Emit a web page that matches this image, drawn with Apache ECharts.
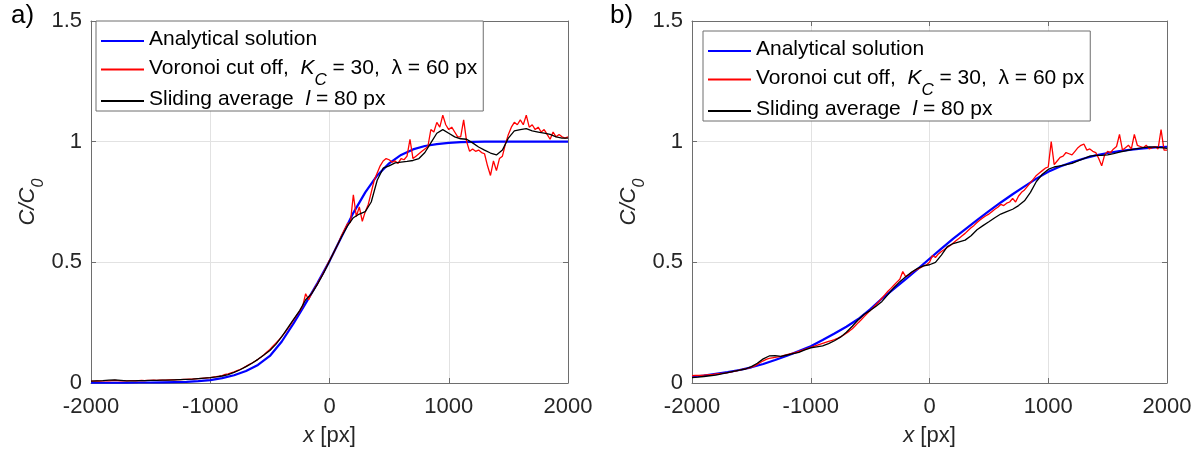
<!DOCTYPE html>
<html><head><meta charset="utf-8">
<script src="https://cdn.jsdelivr.net/npm/echarts@6/dist/echarts.min.js"></script>
<style>html,body{margin:0;padding:0;background:#fff}#c{width:1201px;height:456px}</style>
</head><body><div id="c"></div><script>
// ---------- data ----------
const xTicks = [-2000, -1000, 0, 1000, 2000];
const yTicks = [0, 0.5, 1, 1.5];
const seriesNames = ['Analytical solution', 'Voronoi cut off', 'Sliding average'];
const panelLabels = ['a)', 'b)'];

// sample spacing of each curve (x in px, from -2000 to 2000)
const stepAnalytical = 100;
const stepVoronoi = 25;
const stepSliding = 50;

// Panel a)
const aAnalytical = [
  0.001, 0.001, 0.001, 0.001, 0.002, 0.002, 0.003, 0.004,
  0.005, 0.008, 0.012, 0.020, 0.032, 0.050, 0.075, 0.112,
  0.172, 0.248, 0.330, 0.415, 0.505, 0.605, 0.705, 0.790,
  0.860, 0.910, 0.945, 0.968, 0.982, 0.990, 0.995, 0.998,
  0.999, 1.000, 1.000, 1.000, 1.000, 1.000, 1.000, 1.000,
  1.000
];
const aVoronoi = [
  0.008, 0.008, 0.009, 0.008, 0.009, 0.010, 0.009, 0.010,
  0.011, 0.010, 0.009, 0.010, 0.009, 0.010, 0.010, 0.009,
  0.010, 0.011, 0.010, 0.011, 0.011, 0.012, 0.011, 0.012,
  0.012, 0.012, 0.013, 0.013, 0.013, 0.014, 0.014, 0.015,
  0.015, 0.016, 0.016, 0.017, 0.018, 0.019, 0.020, 0.021,
  0.022, 0.024, 0.026, 0.028, 0.031, 0.036, 0.038, 0.042,
  0.046, 0.051, 0.056, 0.062, 0.069, 0.076, 0.083, 0.090,
  0.098, 0.107, 0.117, 0.128, 0.139, 0.152, 0.165, 0.178,
  0.193, 0.208, 0.225, 0.243, 0.262, 0.280, 0.298, 0.318,
  0.370, 0.345, 0.372, 0.392, 0.413, 0.435, 0.458, 0.483,
  0.508, 0.530, 0.555, 0.580, 0.610, 0.635, 0.660, 0.665,
  0.780, 0.690, 0.730, 0.670, 0.710, 0.740, 0.790, 0.840,
  0.870, 0.900, 0.920, 0.930, 0.925, 0.915, 0.920, 0.910,
  0.930, 0.925, 0.940, 1.010, 0.930, 0.940, 0.950, 0.960,
  0.970, 0.980, 1.050, 1.040, 1.080, 1.060, 1.110, 1.070,
  1.050, 1.060, 1.040, 1.020, 1.020, 1.090, 1.000, 0.960,
  0.970, 0.960, 0.965, 0.955, 0.950, 0.900, 0.860, 0.920,
  0.880, 0.930, 0.940, 0.990, 1.030, 1.060, 1.080, 1.070,
  1.090, 1.070, 1.110, 1.060, 1.070, 1.050, 1.060, 1.040,
  1.050, 1.030, 1.010, 1.040, 1.020, 1.030, 1.020, 1.015,
  1.020
];
const aSliding = [
  0.008, 0.009, 0.010, 0.012, 0.013, 0.011, 0.009, 0.009,
  0.010, 0.010, 0.011, 0.011, 0.012, 0.012, 0.013, 0.014,
  0.015, 0.016, 0.018, 0.020, 0.022, 0.025, 0.029, 0.035,
  0.044, 0.055, 0.068, 0.082, 0.098, 0.116, 0.135, 0.160,
  0.192, 0.228, 0.265, 0.300, 0.345, 0.370, 0.410, 0.455,
  0.505, 0.555, 0.605, 0.650, 0.685, 0.700, 0.710, 0.750,
  0.840, 0.890, 0.900, 0.912, 0.915, 0.918, 0.922, 0.930,
  0.955, 0.995, 1.035, 1.050, 1.035, 1.020, 1.012, 1.010,
  0.995, 0.978, 0.965, 0.953, 0.945, 0.965, 1.015, 1.045,
  1.050, 1.054, 1.045, 1.040, 1.035, 1.030, 1.020, 1.015,
  1.015
];

// Panel b)
const bAnalytical = [
  0.025, 0.031, 0.038, 0.045, 0.054, 0.065, 0.079, 0.095,
  0.113, 0.132, 0.152, 0.178, 0.205, 0.233, 0.265, 0.305,
  0.350, 0.390, 0.430, 0.472, 0.515, 0.557, 0.598, 0.637,
  0.675, 0.712, 0.748, 0.782, 0.815, 0.847, 0.875, 0.897,
  0.915, 0.930, 0.943, 0.953, 0.961, 0.967, 0.972, 0.976,
  0.979
];
const bVoronoi = [
  0.030, 0.031, 0.031, 0.032, 0.033, 0.034, 0.035, 0.036,
  0.038, 0.039, 0.040, 0.041, 0.043, 0.045, 0.048, 0.050,
  0.053, 0.056, 0.059, 0.062, 0.066, 0.070, 0.077, 0.085,
  0.092, 0.098, 0.102, 0.104, 0.106, 0.108, 0.110, 0.114,
  0.118, 0.121, 0.124, 0.127, 0.131, 0.135, 0.139, 0.143,
  0.148, 0.152, 0.156, 0.160, 0.164, 0.168, 0.172, 0.176,
  0.180, 0.185, 0.191, 0.198, 0.206, 0.215, 0.225, 0.237,
  0.250, 0.262, 0.275, 0.288, 0.300, 0.312, 0.325, 0.338,
  0.352, 0.366, 0.380, 0.392, 0.405, 0.418, 0.430, 0.462,
  0.440, 0.448, 0.458, 0.466, 0.472, 0.478, 0.485, 0.490,
  0.500, 0.528, 0.520, 0.535, 0.545, 0.553, 0.562, 0.570,
  0.580, 0.590, 0.600, 0.610, 0.620, 0.632, 0.643, 0.653,
  0.665, 0.675, 0.685, 0.693, 0.700, 0.710, 0.720, 0.728,
  0.740, 0.735, 0.745, 0.750, 0.765, 0.750, 0.775, 0.790,
  0.800, 0.815, 0.830, 0.845, 0.860, 0.870, 0.880, 0.890,
  0.895, 1.000, 0.905, 0.920, 0.935, 0.940, 0.955, 0.950,
  0.945, 0.960, 0.975, 0.985, 0.990, 0.965, 0.970, 0.960,
  0.955, 0.930, 0.900, 0.945, 0.960, 0.955, 0.970, 0.980,
  1.030, 0.965, 0.975, 0.985, 0.970, 1.030, 0.985, 0.980,
  0.975, 0.985, 0.970, 0.975, 0.980, 0.970, 1.050, 0.965,
  0.965
];
const bSliding = [
  0.022, 0.024, 0.027, 0.030, 0.033, 0.038, 0.043, 0.048,
  0.053, 0.058, 0.068, 0.082, 0.100, 0.112, 0.113, 0.110,
  0.116, 0.122, 0.127, 0.137, 0.146, 0.150, 0.154, 0.163,
  0.175, 0.190, 0.210, 0.235, 0.262, 0.285, 0.300, 0.318,
  0.338, 0.366, 0.395, 0.420, 0.440, 0.460, 0.475, 0.485,
  0.490, 0.500, 0.530, 0.565, 0.578, 0.585, 0.592, 0.610,
  0.635, 0.652, 0.668, 0.685, 0.700, 0.710, 0.720, 0.735,
  0.755, 0.790, 0.835, 0.865, 0.885, 0.895, 0.900, 0.905,
  0.910, 0.920, 0.930, 0.940, 0.943, 0.943, 0.945, 0.950,
  0.957, 0.962, 0.967, 0.971, 0.975, 0.978, 0.977, 0.975,
  0.972
];

// ---------- chart ----------
const FONT = '"Liberation Sans", Arial, Helvetica, sans-serif';
const TXT = '#262626';
const AX = '#6e6e6e';
const GRIDC = '#e2e2e2';
const COLORS = ['#0000ff', '#ff0000', '#000000'];
const WIDTHS = [2.2, 1.3, 1.3];

function pairs(vals, step) {
  return vals.map((v, i) => [xTicks[0] + i * step, v]);
}

const grids = [
  { left: 91, right: 633, top: 21, bottom: 73 },
  { left: 692, right: 34, top: 21, bottom: 73 }
];

const xAxes = [], yAxes = [];
grids.forEach((g, gi) => {
  xAxes.push({
    type: 'value', gridIndex: gi, position: 'bottom',
    min: xTicks[0], max: xTicks[xTicks.length - 1], interval: 1000,
    axisLine: { show: true, onZero: false, lineStyle: { color: AX, width: 1 } },
    axisTick: { show: true, inside: true, length: 5, lineStyle: { color: AX } },
    axisLabel: { show: true, color: TXT, fontFamily: FONT, fontSize: 22, margin: 13,
                 formatter: v => String(v) },
    splitLine: { show: true, lineStyle: { color: GRIDC, width: 1 } },
    name: '{i|x}{n| [px]}', nameLocation: 'middle', nameGap: 42,
    nameTextStyle: {
      color: TXT, fontFamily: FONT, fontSize: 22,
      rich: { i: { fontStyle: 'italic', fontSize: 22, fontFamily: FONT, color: TXT },
              n: { fontSize: 22, fontFamily: FONT, color: TXT } }
    }
  });
  xAxes.push({
    type: 'value', gridIndex: gi, position: 'top',
    min: xTicks[0], max: xTicks[xTicks.length - 1], interval: 1000,
    axisLine: { show: true, onZero: false, lineStyle: { color: AX, width: 1 } },
    axisTick: { show: true, inside: true, length: 5, lineStyle: { color: AX } },
    axisLabel: { show: false }, splitLine: { show: false }
  });
  yAxes.push({
    type: 'value', gridIndex: gi, position: 'left',
    min: yTicks[0], max: yTicks[yTicks.length - 1], interval: 0.5,
    axisLine: { show: true, onZero: false, lineStyle: { color: AX, width: 1 } },
    axisTick: { show: true, inside: true, length: 5, lineStyle: { color: AX } },
    axisLabel: { show: true, color: TXT, fontFamily: FONT, fontSize: 22, margin: 9,
                 formatter: v => String(v) },
    splitLine: { show: true, lineStyle: { color: GRIDC, width: 1 } },
    name: '{i|C/C}{s|0}', nameLocation: 'middle', nameRotate: 90, nameGap: 50,
    nameTextStyle: {
      color: TXT, fontFamily: FONT, fontSize: 22,
      rich: {
        i: { fontStyle: 'italic', fontSize: 22, lineHeight: 24, verticalAlign: 'top', fontFamily: FONT, color: TXT },
        s: { fontStyle: 'italic', fontSize: 16, lineHeight: 8, padding: [20, 0, 0, 0], verticalAlign: 'middle', fontFamily: FONT, color: TXT }
      }
    }
  });
  yAxes.push({
    type: 'value', gridIndex: gi, position: 'right',
    min: yTicks[0], max: yTicks[yTicks.length - 1], interval: 0.5,
    axisLine: { show: true, onZero: false, lineStyle: { color: AX, width: 1 } },
    axisTick: { show: true, inside: true, length: 5, lineStyle: { color: AX } },
    axisLabel: { show: false }, splitLine: { show: false }
  });
});

const panelData = [
  [pairs(aAnalytical, stepAnalytical), pairs(aVoronoi, stepVoronoi), pairs(aSliding, stepSliding)],
  [pairs(bAnalytical, stepAnalytical), pairs(bVoronoi, stepVoronoi), pairs(bSliding, stepSliding)]
];

const series = [];
panelData.forEach((sets, gi) => {
  sets.forEach((d, si) => {
    series.push({
      type: 'line', name: seriesNames[si], data: d,
      xAxisIndex: gi * 2, yAxisIndex: gi * 2,
      showSymbol: false, symbol: 'none', smooth: false,
      lineStyle: { color: COLORS[si], width: WIDTHS[si] },
      itemStyle: { color: COLORS[si] },
      emphasis: { disabled: true }, silent: true, z: 2 + si
    });
  });
});

const legendRich = {
  t: { fontSize: 21, lineHeight: 24, verticalAlign: 'top', fontFamily: FONT, color: '#000' },
  ti: { fontSize: 21, lineHeight: 24, verticalAlign: 'top', fontStyle: 'italic', fontFamily: FONT, color: '#000' },
  s: { fontSize: 17, lineHeight: 8, padding: [22, 0, 0, 0], verticalAlign: 'middle', fontStyle: 'italic', fontFamily: FONT, color: '#000' }
};
function legendFormatter(name) {
  if (name === seriesNames[1]) return '{t|Voronoi cut off,  }{ti|K}{s|C}{t| = 30,  λ = 60 px}';
  if (name === seriesNames[2]) return '{t|Sliding average  }{ti|l}{t| = 80 px}';
  return '{t|' + name + '}';
}
function makeLegend(left, top) {
  return {
    left: left, top: top, orient: 'vertical', data: seriesNames,
    icon: 'rect', itemWidth: 43, itemHeight: 2, itemGap: 0,
    padding: [8, 6, 1, 5], backgroundColor: '#fff',
    borderColor: AX, borderWidth: 1, borderRadius: 0,
    selectedMode: false,
    textStyle: { fontFamily: FONT, fontSize: 21, color: '#000', rich: legendRich },
    formatter: legendFormatter
  };
}

const option = {
  animation: false,
  backgroundColor: '#fff',
  grid: grids,
  xAxis: xAxes,
  yAxis: yAxes,
  legend: [makeLegend(96, 21), makeLegend(703, 31)],
  graphic: [
    { type: 'text', left: 11, top: 3, style: { text: panelLabels[0], fontFamily: FONT, fontSize: 26, fill: '#000' } },
    { type: 'text', left: 610, top: 3, style: { text: panelLabels[1], fontFamily: FONT, fontSize: 26, fill: '#000' } }
  ],
  series: series
};

const chart = echarts.init(document.getElementById('c'), null, { renderer: 'canvas' });
chart.setOption(option);
</script></body></html>
